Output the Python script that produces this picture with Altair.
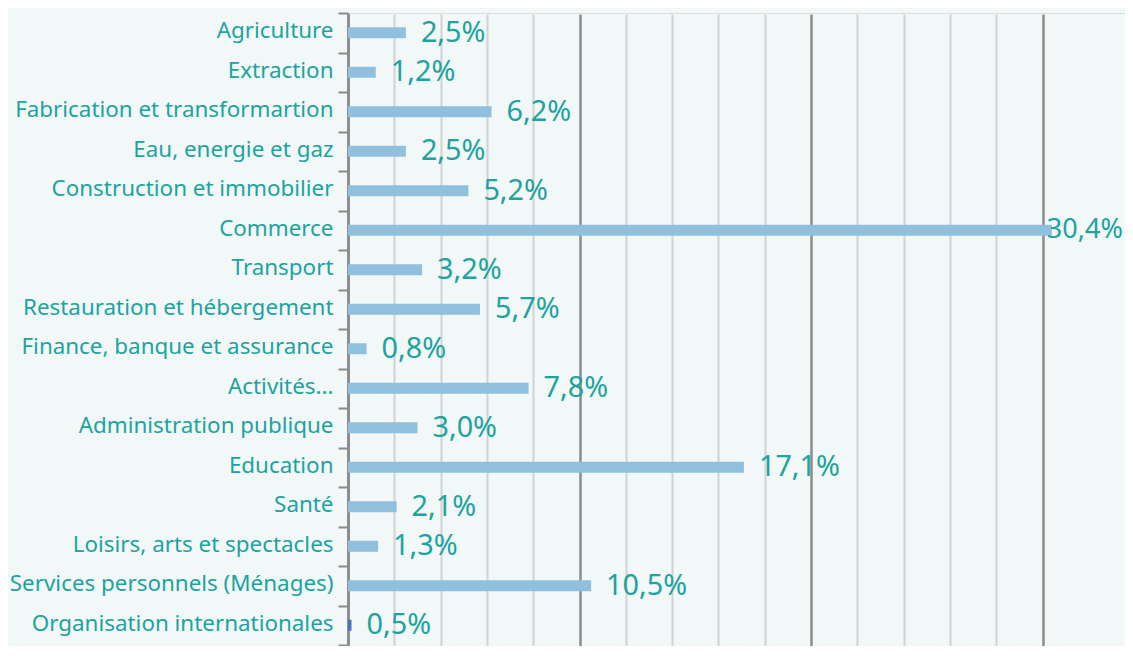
import altair as alt
import pandas as pd

categories = [
    "Agriculture", "Extraction", "Fabrication et transformartion", "Eau, energie et gaz",
    "Construction et immobilier", "Commerce", "Transport", "Restauration et hébergement",
    "Finance, banque et assurance", "Activités...", "Administration publique", "Education",
    "Santé", "Loisirs, arts et spectacles", "Services personnels (Ménages)",
    "Organisation internationales",
]
values = [2.5, 1.2, 6.2, 2.5, 5.2, 30.4, 3.2, 5.7, 0.8, 7.8, 3.0, 17.1, 2.1, 1.3, 10.5, 0.5]
# drawn bar lengths (the last bar is drawn much shorter than its label)
bar_lengths = [2.5, 1.2, 6.2, 2.5, 5.2, 30.4, 3.2, 5.7, 0.8, 7.8, 3.0, 17.1, 2.1, 1.3, 10.5, 0.15]
bar_colors = ["#90c0dd"] * 15 + ["#4a70c0"]
grid_values = list(range(0, 32, 2))

TEAL = "#20a39e"
BG = "#f2f8f8"

df = pd.DataFrame({
    "cat": categories,
    "value": values,
    "bar": bar_lengths,
    "col": bar_colors,
    "label": [f"{v:.1f}".replace(".", ",") + "%" for v in values],
})

x_scale = alt.Scale(domain=[0, 33.56], nice=False, zero=True)
y_enc = alt.Y(
    "cat:N", sort=categories,
    scale=alt.Scale(paddingInner=0, paddingOuter=0, range=[0, 632]),
    axis=alt.Axis(
        title=None, tickBand="extent", labelFontSize=22.4, labelColor=TEAL,
        labelFont="Noto Sans", labelPadding=5, labelOffset=-2, labelLimit=400,
        tickColor="#8a8a8a", tickSize=10, tickWidth=2,
        domainColor="#8a8a8a", domainWidth=2.5, grid=False,
    ),
)

base = alt.Chart(df)

bars = base.mark_bar(size=11).encode(
    x=alt.X(
        "bar:Q", scale=x_scale,
        axis=alt.Axis(
            values=grid_values, labels=False, ticks=False, domain=False, title=None,
            grid=True,
            gridColor=alt.condition("datum.value % 10 === 0", alt.value("#8c8c8c"), alt.value("#d2d2d2")),
            gridWidth=alt.condition("datum.value % 10 === 0", alt.value(2.5), alt.value(2)),
        ),
    ),
    y=y_enc,
    color=alt.Color("col:N", scale=None),
)

labels = base.transform_filter("datum.value < 30").mark_text(
    align="left", baseline="middle", dx=15, dy=0, fontSize=28.8, color=TEAL, font="Noto Sans"
).encode(x=alt.X("bar:Q", scale=x_scale), y=alt.Y("cat:N", sort=categories), text="label:N")

top_label = base.transform_filter("datum.value >= 30").mark_text(
    align="left", baseline="middle", dx=-5, dy=0, fontSize=27, color=TEAL, font="Noto Sans"
).encode(x=alt.X("bar:Q", scale=x_scale), y=alt.Y("cat:N", sort=categories), text="label:N")

chart = alt.layer(bars, labels, top_label).properties(
    width=777, height=633,
    autosize=alt.AutoSizeParams(type="none"),
    padding={"left": 340, "top": 5, "right": 0, "bottom": 0},
    background=BG,
).configure_view(stroke=None, fill=BG).configure(font="Noto Sans")

chart.save("out.html", embed_options={"renderer": "svg", "actions": False})
